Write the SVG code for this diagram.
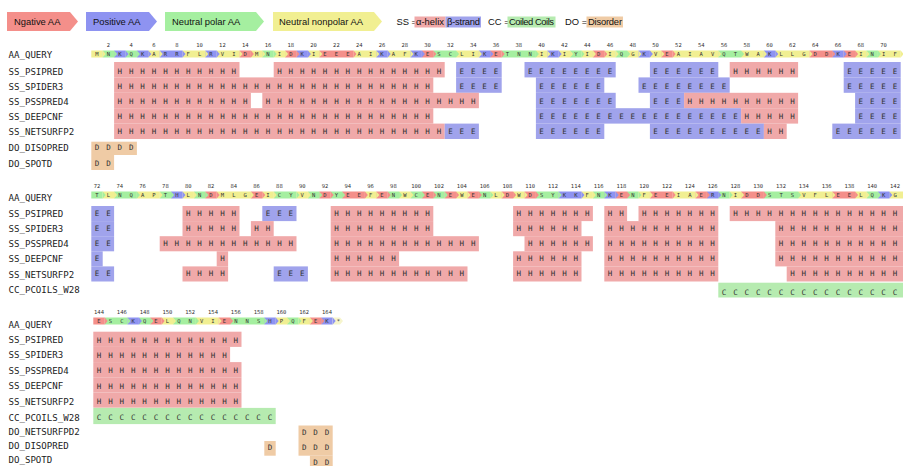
<svg xmlns="http://www.w3.org/2000/svg" width="903" height="466" viewBox="0 0 903 466">
<style>
.lab{font-family:"DejaVu Sans Mono",monospace;font-size:9.1px;fill:#222}
.num{font-family:"DejaVu Sans Mono",monospace;font-size:5.5px;fill:#333;text-anchor:middle}
.seq{font-family:"DejaVu Sans Mono",monospace;font-size:5.5px;letter-spacing:8.089px;fill:#333}
.ss{font-family:"DejaVu Sans Mono",monospace;font-size:7.5px;letter-spacing:6.885px;fill:#333}
.lg{font-family:"Liberation Sans",Arial,sans-serif;font-size:9.4px;fill:#111}
.r{fill:#F48F8A}.b{fill:#8E93F1}.g{fill:#A5EFA0}.y{fill:#F1EF92}.st{fill:#F6F5CC}
.h{fill:#F0A9A9}.e{fill:#A0A3EC}.c{fill:#B6EBB0}.d{fill:#EFCBA5}
</style>
<rect width="903" height="466" fill="#fff"/>

<g id="legend">
<polygon class="r" points="7,12 70,12 78,21.5 70,31 7,31"/>
<text class="lg" x="14" y="25.2">Ngative AA</text>
<polygon class="b" points="86,12 149,12 157,21.5 149,31 86,31"/>
<text class="lg" x="93" y="25.2">Positive AA</text>
<polygon class="g" points="165,12 256,12 264,21.5 256,31 165,31"/>
<text class="lg" x="172" y="25.2">Neutral polar AA</text>
<polygon class="y" points="273,12 374,12 382,21.5 374,31 273,31"/>
<text class="lg" x="279" y="25.2">Neutral nonpolar AA</text>
<text class="lg" x="396.5" y="25.3">SS =</text>
<rect class="h" x="414.5" y="16.5" width="31" height="11"/>
<text class="lg" x="416" y="25.3" textLength="28">α-helix</text>
<rect class="e" x="445.5" y="16.5" width="35.5" height="11"/>
<text class="lg" x="447" y="25.3" textLength="33">β-strand</text>
<text class="lg" x="488" y="25.3">CC =</text>
<rect class="c" x="507.5" y="16.5" width="48" height="11"/>
<text class="lg" x="509" y="25.3" textLength="45">Coiled Coils</text>
<text class="lg" x="565" y="25.3">DO =</text>
<rect class="d" x="586.5" y="16.5" width="36.5" height="11"/>
<text class="lg" x="588" y="25.3" textLength="34">Disorder</text>
</g>

<!-- ================= BLOCK 1 ================= -->
<g id="block1">
<g id="b1-labels" class="lab">
<text x="8.5" y="58.3">AA_QUERY</text>
<text x="8.5" y="75">SS_PSIPRED</text>
<text x="8.5" y="90">SS_SPIDER3</text>
<text x="8.5" y="105">SS_PSSPRED4</text>
<text x="8.5" y="120">SS_DEEPCNF</text>
<text x="8.5" y="135">SS_NETSURFP2</text>
<text x="8.5" y="151">DO_DISOPRED</text>
<text x="8.5" y="166.6">DO_SPOTD</text>
</g>
<g transform="translate(97,0)">
<text id="b1-nums" class="num" y="47.3"><tspan x="11.4">2</tspan><tspan x="34.2">4</tspan><tspan x="57">6</tspan><tspan x="79.8">8</tspan><tspan x="102.6">10</tspan><tspan x="125.4">12</tspan><tspan x="148.2">14</tspan><tspan x="171">16</tspan><tspan x="193.8">18</tspan><tspan x="216.6">20</tspan><tspan x="239.4">22</tspan><tspan x="262.2">24</tspan><tspan x="285">26</tspan><tspan x="307.8">28</tspan><tspan x="330.6">30</tspan><tspan x="353.4">32</tspan><tspan x="376.2">34</tspan><tspan x="399">36</tspan><tspan x="421.8">38</tspan><tspan x="444.6">40</tspan><tspan x="467.4">42</tspan><tspan x="490.2">44</tspan><tspan x="513">46</tspan><tspan x="535.8">48</tspan><tspan x="558.6">50</tspan><tspan x="581.4">52</tspan><tspan x="604.2">54</tspan><tspan x="627">56</tspan><tspan x="649.8">58</tspan><tspan x="672.6">60</tspan><tspan x="695.4">62</tspan><tspan x="718.2">64</tspan><tspan x="741">66</tspan><tspan x="763.8">68</tspan><tspan x="786.6">70</tspan></text>
<g id="b1-aa" transform="translate(0,50.5)">
<path class="y" d="M-5.7 0h11.4v7h-11.4zM51.3 0h11.4v7h-11.4zM85.5 0h22.8v7h-22.8zM119.7 0h22.8v7h-22.8zM153.9 0h11.4v7h-11.4zM176.7 0h11.4v7h-11.4zM210.9 0h11.4v7h-11.4zM256.5 0h22.8v7h-22.8zM290.7 0h22.8v7h-22.8zM359.1 0h22.8v7h-22.8zM438.9 0h11.4v7h-11.4zM461.7 0h11.4v7h-11.4zM484.5 0h11.4v7h-11.4zM507.3 0h11.4v7h-11.4zM530.1 0h11.4v7h-11.4zM552.9 0h11.4v7h-11.4zM575.7 0h45.6v7h-45.6zM644.1 0h22.8v7h-22.8zM678.3 0h34.2v7h-34.2zM758.1 0h11.4v7h-11.4zM780.9 0h22.8v7h-22.8z"/>
<path class="g" d="M5.7 0h11.4v7h-11.4zM28.5 0h11.4v7h-11.4zM165.3 0h11.4v7h-11.4zM336.3 0h22.8v7h-22.8zM404.7 0h34.2v7h-34.2zM473.1 0h11.4v7h-11.4zM518.7 0h11.4v7h-11.4zM621.3 0h22.8v7h-22.8zM769.5 0h11.4v7h-11.4z"/>
<path class="b" d="M17.1 0h11.4v7h-11.4zM39.9 0h11.4v7h-11.4zM62.7 0h22.8v7h-22.8zM108.3 0h11.4v7h-11.4zM199.5 0h11.4v7h-11.4zM279.3 0h11.4v7h-11.4zM313.5 0h11.4v7h-11.4zM381.9 0h11.4v7h-11.4zM450.3 0h11.4v7h-11.4zM541.5 0h11.4v7h-11.4zM666.9 0h11.4v7h-11.4zM735.3 0h11.4v7h-11.4z"/>
<path class="r" d="M142.5 0h11.4v7h-11.4zM188.1 0h11.4v7h-11.4zM222.3 0h34.2v7h-34.2zM324.9 0h11.4v7h-11.4zM393.3 0h11.4v7h-11.4zM495.9 0h11.4v7h-11.4zM564.3 0h11.4v7h-11.4zM712.5 0h22.8v7h-22.8zM746.7 0h11.4v7h-11.4z"/>
<path class="y" d="M5.7 0l3 3.5l-3 3.5zM62.7 0l3 3.5l-3 3.5zM108.3 0l3 3.5l-3 3.5zM142.5 0l3 3.5l-3 3.5zM165.3 0l3 3.5l-3 3.5zM188.1 0l3 3.5l-3 3.5zM222.3 0l3 3.5l-3 3.5zM279.3 0l3 3.5l-3 3.5zM313.5 0l3 3.5l-3 3.5zM381.9 0l3 3.5l-3 3.5zM450.3 0l3 3.5l-3 3.5zM473.1 0l3 3.5l-3 3.5zM495.9 0l3 3.5l-3 3.5zM518.7 0l3 3.5l-3 3.5zM541.5 0l3 3.5l-3 3.5zM564.3 0l3 3.5l-3 3.5zM621.3 0l3 3.5l-3 3.5zM666.9 0l3 3.5l-3 3.5zM712.5 0l3 3.5l-3 3.5zM769.5 0l3 3.5l-3 3.5zM803.7 0l3 3.5l-3 3.5z"/>
<path class="g" d="M17.1 0l3 3.5l-3 3.5zM39.9 0l3 3.5l-3 3.5zM176.7 0l3 3.5l-3 3.5zM359.1 0l3 3.5l-3 3.5zM438.9 0l3 3.5l-3 3.5zM484.5 0l3 3.5l-3 3.5zM530.1 0l3 3.5l-3 3.5zM644.1 0l3 3.5l-3 3.5zM780.9 0l3 3.5l-3 3.5z"/>
<path class="b" d="M28.5 0l3 3.5l-3 3.5zM51.3 0l3 3.5l-3 3.5zM85.5 0l3 3.5l-3 3.5zM119.7 0l3 3.5l-3 3.5zM210.9 0l3 3.5l-3 3.5zM290.7 0l3 3.5l-3 3.5zM324.9 0l3 3.5l-3 3.5zM393.3 0l3 3.5l-3 3.5zM461.7 0l3 3.5l-3 3.5zM552.9 0l3 3.5l-3 3.5zM678.3 0l3 3.5l-3 3.5zM746.7 0l3 3.5l-3 3.5z"/>
<path class="r" d="M153.9 0l3 3.5l-3 3.5zM199.5 0l3 3.5l-3 3.5zM256.5 0l3 3.5l-3 3.5zM336.3 0l3 3.5l-3 3.5zM404.7 0l3 3.5l-3 3.5zM507.3 0l3 3.5l-3 3.5zM575.7 0l3 3.5l-3 3.5zM735.3 0l3 3.5l-3 3.5zM758.1 0l3 3.5l-3 3.5z"/>
<text class="seq" x="-1.656" y="5.5">MNKQKARRFLRVIDMNIDKIEEEAIKAFKESCLIKETNNIKIYIDIQGKVEAIAVQTWAKLLGDDKEINIF</text>
</g>
<g id="b1-psipred">
<rect class="h" x="17.1" y="62" width="125.4" height="15.4"/><text class="ss" x="20.54" y="74.3">HHHHHHHHHHH</text>
<rect class="h" x="176.7" y="62" width="171" height="15.4"/><text class="ss" x="180.14" y="74.3">HHHHHHHHHHHHHHH</text>
<rect class="e" x="359.1" y="62" width="45.6" height="15.4"/><text class="ss" x="362.54" y="74.3">EEEE</text>
<rect class="e" x="427.5" y="62" width="91.2" height="15.4"/><text class="ss" x="430.94" y="74.3">EEEEEEEE</text>
<rect class="e" x="552.9" y="62" width="68.4" height="15.4"/><text class="ss" x="556.34" y="74.3">EEEEEE</text>
<rect class="h" x="632.7" y="62" width="68.4" height="15.4"/><text class="ss" x="636.14" y="74.3">HHHHHH</text>
<rect class="e" x="746.7" y="62" width="57" height="15.4"/><text class="ss" x="750.14" y="74.3">EEEEE</text>
</g>
<g id="b1-spider3">
<rect class="h" x="17.1" y="77.4" width="319.2" height="15.4"/><text class="ss" x="20.54" y="89.3">HHHHHHHHHHHHHHHHHHHHHHHHHHHH</text>
<rect class="e" x="359.1" y="77.4" width="45.6" height="15.4"/><text class="ss" x="362.54" y="89.3">EEEE</text>
<rect class="e" x="438.9" y="77.4" width="68.4" height="15.4"/><text class="ss" x="442.34" y="89.3">EEEEEE</text>
<rect class="e" x="541.5" y="77.4" width="91.2" height="15.4"/><text class="ss" x="544.94" y="89.3">EEEEEEEE</text>
<rect class="e" x="746.7" y="77.4" width="57" height="15.4"/><text class="ss" x="750.14" y="89.3">EEEEE</text>
</g>
<g id="b1-psspred4">
<rect class="h" x="17.1" y="92.8" width="136.8" height="15.4"/><text class="ss" x="20.54" y="104.3">HHHHHHHHHHHH</text>
<rect class="h" x="165.3" y="92.8" width="216.6" height="15.4"/><text class="ss" x="168.74" y="104.3">HHHHHHHHHHHHHHHHHHH</text>
<rect class="e" x="438.9" y="92.8" width="79.8" height="15.4"/><text class="ss" x="442.34" y="104.3">EEEEEEE</text>
<rect class="e" x="552.9" y="92.8" width="34.2" height="15.4"/><text class="ss" x="556.34" y="104.3">EEE</text>
<rect class="h" x="587.1" y="92.8" width="114" height="15.4"/><text class="ss" x="590.54" y="104.3">HHHHHHHHHH</text>
<rect class="e" x="758.1" y="92.8" width="45.6" height="15.4"/><text class="ss" x="761.54" y="104.3">EEEE</text>
</g>
<g id="b1-deepcnf">
<rect class="h" x="17.1" y="108.2" width="319.2" height="15.4"/><text class="ss" x="20.54" y="119.3">HHHHHHHHHHHHHHHHHHHHHHHHHHHH</text>
<rect class="e" x="438.9" y="108.2" width="205.2" height="15.4"/><text class="ss" x="442.34" y="119.3">EEEEEEEEEEEEEEEEEE</text>
<rect class="h" x="644.1" y="108.2" width="57" height="15.4"/><text class="ss" x="647.54" y="119.3">HHHHH</text>
<rect class="e" x="758.1" y="108.2" width="45.6" height="15.4"/><text class="ss" x="761.54" y="119.3">EEEE</text>
</g>
<g id="b1-netsurfp2">
<rect class="h" x="17.1" y="123.6" width="330.6" height="15.4"/><text class="ss" x="20.54" y="134.3">HHHHHHHHHHHHHHHHHHHHHHHHHHHHH</text>
<rect class="e" x="347.7" y="123.6" width="34.2" height="15.4"/><text class="ss" x="351.14" y="134.3">EEE</text>
<rect class="e" x="438.9" y="123.6" width="68.4" height="15.4"/><text class="ss" x="442.34" y="134.3">EEEEEE</text>
<rect class="e" x="552.9" y="123.6" width="114" height="15.4"/><text class="ss" x="556.34" y="134.3">EEEEEEEEEE</text>
<rect class="h" x="666.9" y="123.6" width="22.8" height="15.4"/><text class="ss" x="670.34" y="134.3">HH</text>
<rect class="e" x="735.3" y="123.6" width="68.4" height="15.4"/><text class="ss" x="738.74" y="134.3">EEEEEE</text>
</g>
<g id="b1-disopred">
<rect class="d" x="-5.7" y="141.7" width="45.6" height="13.3"/><text class="ss" x="-2.26" y="150.3">DDDD</text>
</g>
<g id="b1-spotd">
<rect class="d" x="-5.7" y="155" width="22.8" height="15"/><text class="ss" x="-2.26" y="165.9">DD</text>
</g>
</g>
</g>

<!-- ================= BLOCK 2 ================= -->
<g id="block2">
<g id="b2-labels" class="lab">
<text x="8.5" y="200.6">AA_QUERY</text>
<text x="8.5" y="216.6">SS_PSIPRED</text>
<text x="8.5" y="231.6">SS_SPIDER3</text>
<text x="8.5" y="246.7">SS_PSSPRED4</text>
<text x="8.5" y="262.3">SS_DEEPCNF</text>
<text x="8.5" y="278">SS_NETSURFP2</text>
<text x="8.5" y="293.3">CC_PCOILS_W28</text>
</g>
<g transform="translate(97,0)">
<text id="b2-nums" class="num" y="188.3"><tspan x="0">72</tspan><tspan x="22.8">74</tspan><tspan x="45.6">76</tspan><tspan x="68.4">78</tspan><tspan x="91.2">80</tspan><tspan x="114">82</tspan><tspan x="136.8">84</tspan><tspan x="159.6">86</tspan><tspan x="182.4">88</tspan><tspan x="205.2">90</tspan><tspan x="228">92</tspan><tspan x="250.8">94</tspan><tspan x="273.6">96</tspan><tspan x="296.4">98</tspan><tspan x="319.2">100</tspan><tspan x="342">102</tspan><tspan x="364.8">104</tspan><tspan x="387.6">106</tspan><tspan x="410.4">108</tspan><tspan x="433.2">110</tspan><tspan x="456">112</tspan><tspan x="478.8">114</tspan><tspan x="501.6">116</tspan><tspan x="524.4">118</tspan><tspan x="547.2">120</tspan><tspan x="570">122</tspan><tspan x="592.8">124</tspan><tspan x="615.6">126</tspan><tspan x="638.4">128</tspan><tspan x="661.2">130</tspan><tspan x="684">132</tspan><tspan x="706.8">134</tspan><tspan x="729.6">136</tspan><tspan x="752.4">138</tspan><tspan x="775.2">140</tspan><tspan x="798">142</tspan></text>
<g id="b2-aa" transform="translate(0,191.5)">
<path class="g" d="M-5.7 0h11.4v7h-11.4zM17.1 0h22.8v7h-22.8zM62.7 0h11.4v7h-11.4zM96.9 0h11.4v7h-11.4zM176.7 0h22.8v7h-22.8zM210.9 0h11.4v7h-11.4zM233.7 0h11.4v7h-11.4zM290.7 0h11.4v7h-11.4zM313.5 0h11.4v7h-11.4zM336.3 0h11.4v7h-11.4zM381.9 0h11.4v7h-11.4zM438.9 0h22.8v7h-22.8zM495.9 0h11.4v7h-11.4zM530.1 0h11.4v7h-11.4zM621.3 0h11.4v7h-11.4zM666.9 0h34.2v7h-34.2zM769.5 0h11.4v7h-11.4z"/>
<path class="y" d="M5.7 0h11.4v7h-11.4zM39.9 0h22.8v7h-22.8zM85.5 0h11.4v7h-11.4zM119.7 0h34.2v7h-34.2zM165.3 0h11.4v7h-11.4zM199.5 0h11.4v7h-11.4zM267.9 0h11.4v7h-11.4zM302.1 0h11.4v7h-11.4zM359.1 0h11.4v7h-11.4zM393.3 0h11.4v7h-11.4zM416.1 0h11.4v7h-11.4zM484.5 0h11.4v7h-11.4zM541.5 0h11.4v7h-11.4zM575.7 0h22.8v7h-22.8zM632.7 0h11.4v7h-11.4zM701.1 0h34.2v7h-34.2zM758.1 0h11.4v7h-11.4zM792.3 0h22.8v7h-22.8z"/>
<path class="b" d="M74.1 0h11.4v7h-11.4zM461.7 0h22.8v7h-22.8zM507.3 0h11.4v7h-11.4zM609.9 0h11.4v7h-11.4zM780.9 0h11.4v7h-11.4z"/>
<path class="r" d="M108.3 0h11.4v7h-11.4zM153.9 0h11.4v7h-11.4zM222.3 0h11.4v7h-11.4zM245.1 0h22.8v7h-22.8zM279.3 0h11.4v7h-11.4zM324.9 0h11.4v7h-11.4zM347.7 0h11.4v7h-11.4zM370.5 0h11.4v7h-11.4zM404.7 0h11.4v7h-11.4zM427.5 0h11.4v7h-11.4zM518.7 0h11.4v7h-11.4zM552.9 0h22.8v7h-22.8zM598.5 0h11.4v7h-11.4zM644.1 0h22.8v7h-22.8zM735.3 0h22.8v7h-22.8z"/>
<path class="g" d="M5.7 0l3 3.5l-3 3.5zM39.9 0l3 3.5l-3 3.5zM74.1 0l3 3.5l-3 3.5zM108.3 0l3 3.5l-3 3.5zM199.5 0l3 3.5l-3 3.5zM222.3 0l3 3.5l-3 3.5zM245.1 0l3 3.5l-3 3.5zM302.1 0l3 3.5l-3 3.5zM324.9 0l3 3.5l-3 3.5zM347.7 0l3 3.5l-3 3.5zM393.3 0l3 3.5l-3 3.5zM461.7 0l3 3.5l-3 3.5zM507.3 0l3 3.5l-3 3.5zM541.5 0l3 3.5l-3 3.5zM632.7 0l3 3.5l-3 3.5zM701.1 0l3 3.5l-3 3.5zM780.9 0l3 3.5l-3 3.5z"/>
<path class="y" d="M17.1 0l3 3.5l-3 3.5zM62.7 0l3 3.5l-3 3.5zM96.9 0l3 3.5l-3 3.5zM153.9 0l3 3.5l-3 3.5zM176.7 0l3 3.5l-3 3.5zM210.9 0l3 3.5l-3 3.5zM279.3 0l3 3.5l-3 3.5zM313.5 0l3 3.5l-3 3.5zM370.5 0l3 3.5l-3 3.5zM404.7 0l3 3.5l-3 3.5zM427.5 0l3 3.5l-3 3.5zM495.9 0l3 3.5l-3 3.5zM552.9 0l3 3.5l-3 3.5zM598.5 0l3 3.5l-3 3.5zM644.1 0l3 3.5l-3 3.5zM735.3 0l3 3.5l-3 3.5zM769.5 0l3 3.5l-3 3.5z"/>
<path class="b" d="M85.5 0l3 3.5l-3 3.5zM484.5 0l3 3.5l-3 3.5zM518.7 0l3 3.5l-3 3.5zM621.3 0l3 3.5l-3 3.5zM792.3 0l3 3.5l-3 3.5z"/>
<path class="r" d="M119.7 0l3 3.5l-3 3.5zM165.3 0l3 3.5l-3 3.5zM233.7 0l3 3.5l-3 3.5zM267.9 0l3 3.5l-3 3.5zM290.7 0l3 3.5l-3 3.5zM336.3 0l3 3.5l-3 3.5zM359.1 0l3 3.5l-3 3.5zM381.9 0l3 3.5l-3 3.5zM416.1 0l3 3.5l-3 3.5zM438.9 0l3 3.5l-3 3.5zM530.1 0l3 3.5l-3 3.5zM575.7 0l3 3.5l-3 3.5zM609.9 0l3 3.5l-3 3.5zM666.9 0l3 3.5l-3 3.5zM758.1 0l3 3.5l-3 3.5z"/>
<text class="seq" x="-1.656" y="5.5">TLNQAPTHLNDMLGEICYVNDYEEFENWCENEWENLDWDSYKKFNKENFEEIAERNIDDSTSVFLEELQKG</text>
</g>
<g id="b2-psipred">
<rect class="e" x="-5.7" y="206" width="22.8" height="15.1"/><text class="ss" x="-2.26" y="216">EE</text>
<rect class="h" x="85.5" y="206" width="57" height="15.1"/><text class="ss" x="88.94" y="216">HHHHH</text>
<rect class="e" x="165.3" y="206" width="34.2" height="15.1"/><text class="ss" x="168.74" y="216">EEE</text>
<rect class="h" x="233.7" y="206" width="102.6" height="15.1"/><text class="ss" x="237.14" y="216">HHHHHHHHH</text>
<rect class="h" x="416.1" y="206" width="79.8" height="15.1"/><text class="ss" x="419.54" y="216">HHHHHHH</text>
<rect class="h" x="507.3" y="206" width="22.8" height="15.1"/><text class="ss" x="510.74" y="216">HH</text>
<rect class="h" x="541.5" y="206" width="79.8" height="15.1"/><text class="ss" x="544.94" y="216">HHHHHHH</text>
<rect class="h" x="632.7" y="206" width="182.4" height="15.1"/><text class="ss" x="636.14" y="216">HHHHHHHHHHHHHHH</text>
</g>
<g id="b2-spider3">
<rect class="e" x="-5.7" y="221.1" width="22.8" height="15.1"/><text class="ss" x="-2.26" y="231.1">EE</text>
<rect class="h" x="85.5" y="221.1" width="57" height="15.1"/><text class="ss" x="88.94" y="231.1">HHHHH</text>
<rect class="h" x="153.9" y="221.1" width="22.8" height="15.1"/><text class="ss" x="157.34" y="231.1">HH</text>
<rect class="h" x="233.7" y="221.1" width="102.6" height="15.1"/><text class="ss" x="237.14" y="231.1">HHHHHHHHH</text>
<rect class="h" x="416.1" y="221.1" width="68.4" height="15.1"/><text class="ss" x="419.54" y="231.1">HHHHHH</text>
<rect class="h" x="507.3" y="221.1" width="114" height="15.1"/><text class="ss" x="510.74" y="231.1">HHHHHHHHHH</text>
<rect class="h" x="678.3" y="221.1" width="136.8" height="15.1"/><text class="ss" x="681.74" y="231.1">HHHHHHHHHHH</text>
</g>
<g id="b2-psspred4">
<rect class="e" x="-5.7" y="236.2" width="22.8" height="15.1"/><text class="ss" x="-2.26" y="246.2">EE</text>
<rect class="h" x="62.7" y="236.2" width="136.8" height="15.1"/><text class="ss" x="66.14" y="246.2">HHHHHHHHHHHH</text>
<rect class="h" x="233.7" y="236.2" width="148.2" height="15.1"/><text class="ss" x="237.14" y="246.2">HHHHHHHHHHHHH</text>
<rect class="h" x="427.5" y="236.2" width="68.4" height="15.1"/><text class="ss" x="430.94" y="246.2">HHHHHH</text>
<rect class="h" x="507.3" y="236.2" width="114" height="15.1"/><text class="ss" x="510.74" y="246.2">HHHHHHHHHH</text>
<rect class="h" x="678.3" y="236.2" width="136.8" height="15.1"/><text class="ss" x="681.74" y="246.2">HHHHHHHHHHH</text>
</g>
<g id="b2-deepcnf">
<rect class="e" x="-5.7" y="251.3" width="11.4" height="15.1"/><text class="ss" x="-2.26" y="261.3">E</text>
<rect class="h" x="119.7" y="251.3" width="11.4" height="15.1"/><text class="ss" x="123.14" y="261.3">H</text>
<rect class="h" x="233.7" y="251.3" width="68.4" height="15.1"/><text class="ss" x="237.14" y="261.3">HHHHHH</text>
<rect class="h" x="416.1" y="251.3" width="68.4" height="15.1"/><text class="ss" x="419.54" y="261.3">HHHHHH</text>
<rect class="h" x="507.3" y="251.3" width="114" height="15.1"/><text class="ss" x="510.74" y="261.3">HHHHHHHHHH</text>
<rect class="h" x="678.3" y="251.3" width="136.8" height="15.1"/><text class="ss" x="681.74" y="261.3">HHHHHHHHHHH</text>
</g>
<g id="b2-netsurfp2">
<rect class="e" x="-5.7" y="266.4" width="22.8" height="15.1"/><text class="ss" x="-2.26" y="276.4">EE</text>
<rect class="h" x="85.5" y="266.4" width="45.6" height="15.1"/><text class="ss" x="88.94" y="276.4">HHHH</text>
<rect class="e" x="176.7" y="266.4" width="34.2" height="15.1"/><text class="ss" x="180.14" y="276.4">EEE</text>
<rect class="h" x="233.7" y="266.4" width="136.8" height="15.1"/><text class="ss" x="237.14" y="276.4">HHHHHHHHHHHH</text>
<rect class="h" x="416.1" y="266.4" width="68.4" height="15.1"/><text class="ss" x="419.54" y="276.4">HHHHHH</text>
<rect class="h" x="507.3" y="266.4" width="114" height="15.1"/><text class="ss" x="510.74" y="276.4">HHHHHHHHHH</text>
<rect class="h" x="689.7" y="266.4" width="125.4" height="15.1"/><text class="ss" x="693.14" y="276.4">HHHHHHHHHH</text>
</g>
<g id="b2-pcoils">
<rect class="c" x="621.3" y="282.7" width="193.8" height="14.8"/><text class="ss" x="624.74" y="294.9">CCCCCCCCCCCCCCCC</text>
</g>
</g>
</g>

<!-- ================= BLOCK 3 ================= -->
<g id="block3">
<g id="b3-labels" class="lab">
<text x="8.5" y="328.3">AA_QUERY</text>
<text x="8.5" y="343.3">SS_PSIPRED</text>
<text x="8.5" y="358.3">SS_SPIDER3</text>
<text x="8.5" y="374">SS_PSSPRED4</text>
<text x="8.5" y="389.3">SS_DEEPCNF</text>
<text x="8.5" y="405">SS_NETSURFP2</text>
<text x="8.5" y="421">CC_PCOILS_W28</text>
<text x="8.5" y="435">DO_NETSURFPD2</text>
<text x="8.5" y="449">DO_DISOPRED</text>
<text x="8.5" y="462.8">DO_SPOTD</text>
</g>
<g transform="translate(99,0)">
<text id="b3-nums" class="num" y="314.3"><tspan x="0">144</tspan><tspan x="22.8">146</tspan><tspan x="45.6">148</tspan><tspan x="68.4">150</tspan><tspan x="91.2">152</tspan><tspan x="114">154</tspan><tspan x="136.8">156</tspan><tspan x="159.6">158</tspan><tspan x="182.4">160</tspan><tspan x="205.2">162</tspan><tspan x="228">164</tspan></text>
<g id="b3-aa" transform="translate(0,317.5)">
<path class="g" d="M5.7 0h22.8v7h-22.8zM39.9 0h11.4v7h-11.4zM74.1 0h22.8v7h-22.8zM131.1 0h34.2v7h-34.2zM188.1 0h11.4v7h-11.4z"/>
<path class="y" d="M62.7 0h11.4v7h-11.4zM96.9 0h22.8v7h-22.8zM176.7 0h11.4v7h-11.4zM199.5 0h11.4v7h-11.4z"/>
<path class="r" d="M-5.7 0h11.4v7h-11.4zM51.3 0h11.4v7h-11.4zM119.7 0h11.4v7h-11.4zM210.9 0h11.4v7h-11.4z"/>
<path class="b" d="M28.5 0h11.4v7h-11.4zM165.3 0h11.4v7h-11.4zM222.3 0h11.4v7h-11.4z"/>
<path class="st" d="M233.7 0h7.3l3 3.5l-3 3.5h-7.3z"/>
<path class="g" d="M28.5 0l3 3.5l-3 3.5zM51.3 0l3 3.5l-3 3.5zM96.9 0l3 3.5l-3 3.5zM165.3 0l3 3.5l-3 3.5zM199.5 0l3 3.5l-3 3.5z"/>
<path class="y" d="M74.1 0l3 3.5l-3 3.5zM119.7 0l3 3.5l-3 3.5zM188.1 0l3 3.5l-3 3.5zM210.9 0l3 3.5l-3 3.5z"/>
<path class="r" d="M5.7 0l3 3.5l-3 3.5zM62.7 0l3 3.5l-3 3.5zM131.1 0l3 3.5l-3 3.5zM222.3 0l3 3.5l-3 3.5z"/>
<path class="b" d="M39.9 0l3 3.5l-3 3.5zM176.7 0l3 3.5l-3 3.5zM233.7 0l3 3.5l-3 3.5z"/>
<text class="seq" x="-1.656" y="5.5">ESCKQELQNVIENNSHPQFEK*</text>
</g>
<g id="b3-ss">
<rect class="h" x="-5.7" y="331.7" width="148.2" height="15.2"/><text class="ss" x="-2.26" y="342.6">HHHHHHHHHHHHH</text>
<rect class="h" x="-5.7" y="346.9" width="136.8" height="15.2"/><text class="ss" x="-2.26" y="357.8">HHHHHHHHHHHH</text>
<rect class="h" x="-5.7" y="362.1" width="148.2" height="15.2"/><text class="ss" x="-2.26" y="373.2">HHHHHHHHHHHHH</text>
<rect class="h" x="-5.7" y="377.3" width="148.2" height="15.2"/><text class="ss" x="-2.26" y="388.5">HHHHHHHHHHHHH</text>
<rect class="h" x="-5.7" y="392.5" width="148.2" height="15.2"/><text class="ss" x="-2.26" y="404">HHHHHHHHHHHHH</text>
</g>
<g id="b3-pcoils">
<rect class="c" x="-5.7" y="407.9" width="182.4" height="16.2"/><text class="ss" x="-2.26" y="420.3">CCCCCCCCCCCCCCCC</text>
</g>
<g id="b3-do">
<rect class="d" x="199.5" y="425.5" width="34.2" height="15.5"/><text class="ss" x="202.94" y="434.6">DDD</text>
<rect class="d" x="165.3" y="441" width="11.4" height="14.7"/><text class="ss" x="168.74" y="450.3">D</text>
<rect class="d" x="199.5" y="441" width="34.2" height="14.7"/><text class="ss" x="202.94" y="450.3">DDD</text>
<rect class="d" x="210.9" y="455.7" width="22.8" height="11"/><text class="ss" x="214.34" y="464.5">DD</text>
</g>
</g>
</g>
</svg>
